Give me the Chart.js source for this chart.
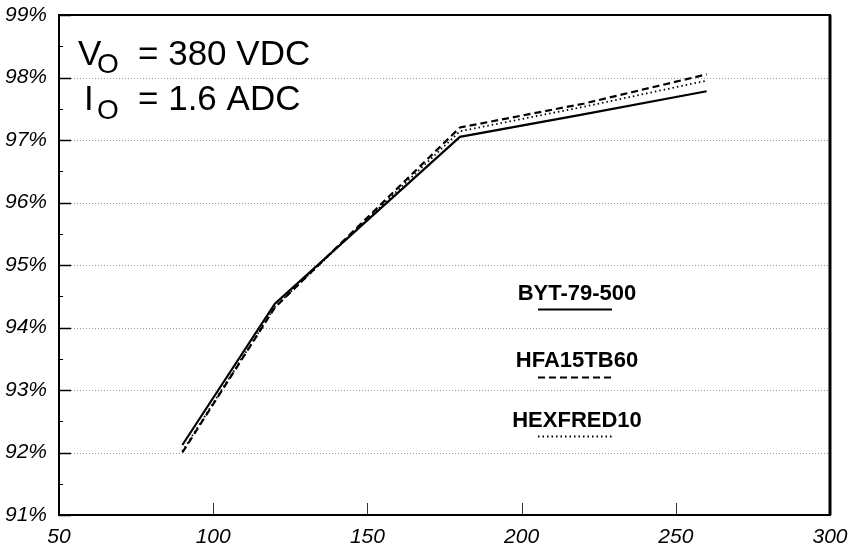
<!DOCTYPE html>
<html><head><meta charset="utf-8">
<style>html,body{margin:0;padding:0;background:#fff}#wrap{width:861px;height:550px}</style>
<script src="https://cdn.jsdelivr.net/npm/chart.js@4"></script>
</head><body><div id="wrap"><canvas id="c" width="861" height="550"></canvas></div>
<script>
// ---- data ----
const outputPower = [90, 120, 180, 220, 260];
const bytEff   = [92.12, 94.38, 97.05, 97.41, 97.78];
const hfaEff   = [92.00, 94.32, 97.20, 97.58, 98.05];
const hexEff   = [92.02, 94.33, 97.14, 97.53, 97.95];
const seriesNames = ['BYT-79-500', 'HFA15TB60', 'HEXFRED10'];
const xTickValues = [50, 100, 150, 200, 250, 300];
const yTickValues = [91, 92, 93, 94, 95, 96, 97, 98, 99];
const yMinorValues = [91.5, 92.5, 93.5, 94.5, 95.5, 96.5, 97.5, 98.5];

const FONT = '"Liberation Sans", Arial, Helvetica, sans-serif';
const toPts = ys => outputPower.map((x, i) => ({x, y: ys[i]}));

const styles = [
  {dash: [], width: 2.2},
  {dash: [7, 4], width: 2.2},
  {dash: [1.5, 3], width: 1.8}
];

const decor = {
  id: 'decor',
  beforeDatasetsDraw(chart) {
    const {ctx, chartArea: a, scales: {x, y}} = chart;
    ctx.save();
    ctx.strokeStyle = '#9a9a9a';
    ctx.lineWidth = 1;
    ctx.setLineDash([1, 2]);
    yTickValues.forEach(v => {
      const py = Math.round(y.getPixelForValue(v)) + 0.5;
      ctx.beginPath(); ctx.moveTo(a.left, py); ctx.lineTo(a.right, py); ctx.stroke();
    });
    ctx.setLineDash([]);
    ctx.strokeStyle = '#000';
    ctx.lineWidth = 1.5;
    yTickValues.forEach(v => {
      const py = Math.round(y.getPixelForValue(v)) + 0.5;
      ctx.beginPath(); ctx.moveTo(a.left, py); ctx.lineTo(a.left + 12, py); ctx.stroke();
    });
    ctx.lineWidth = 1;
    yMinorValues.forEach(v => {
      const py = Math.round(y.getPixelForValue(v)) + 0.5;
      ctx.beginPath(); ctx.moveTo(a.left, py); ctx.lineTo(a.left + 4, py); ctx.stroke();
    });
    ctx.strokeStyle = '#333';
    xTickValues.forEach(v => {
      const px = Math.round(x.getPixelForValue(v)) + 0.5;
      ctx.beginPath(); ctx.moveTo(px, a.bottom); ctx.lineTo(px, a.bottom - 12); ctx.stroke();
    });
    ctx.restore();
  },
  afterDatasetsDraw(chart) {
    const {ctx, chartArea: a} = chart;
    ctx.save();
    ctx.strokeStyle = '#000';
    ctx.lineWidth = 2;
    ctx.strokeRect(a.left, a.top, a.right - a.left, a.bottom - a.top);
    ctx.lineWidth = 3;
    ctx.beginPath(); ctx.moveTo(a.right, a.top); ctx.lineTo(a.right, a.bottom); ctx.stroke();

    ctx.fillStyle = '#000';
    ctx.textBaseline = 'alphabetic';
    ctx.textAlign = 'left';
    ctx.font = '35px ' + FONT;
    ctx.fillText('V', 78, 65);
    ctx.fillText('= 380 VDC', 138, 65);
    ctx.fillText('I', 84, 110);
    ctx.fillText('= 1.6 ADC', 138, 110);
    ctx.font = '28px ' + FONT;
    ctx.fillText('O', 97, 73);
    ctx.fillText('O', 97, 119);

    ctx.font = 'bold 22px ' + FONT;
    ctx.textAlign = 'center';
    const legendRows = [{ty: 300, ly: 309}, {ty: 367, ly: 377}, {ty: 427, ly: 436}];
    seriesNames.forEach((name, i) => {
      ctx.fillText(name, 577, legendRows[i].ty);
      ctx.setLineDash(styles[i].dash);
      ctx.lineWidth = styles[i].width;
      ctx.beginPath(); ctx.moveTo(538, legendRows[i].ly + 0.5); ctx.lineTo(612, legendRows[i].ly + 0.5); ctx.stroke();
    });
    ctx.restore();
  }
};

const datasets = [bytEff, hfaEff, hexEff].map((ys, i) => ({
  label: seriesNames[i],
  data: toPts(ys),
  borderColor: '#000',
  borderWidth: styles[i].width,
  borderDash: styles[i].dash,
  pointRadius: 0,
  tension: 0,
  fill: false
}));

new Chart(document.getElementById('c'), {
  type: 'line',
  data: {datasets},
  options: {
    responsive: false,
    animation: false,
    devicePixelRatio: 1,
    layout: {padding: {top: 15, right: 31, left: 0, bottom: 0}},
    plugins: {legend: {display: false}, tooltip: {enabled: false}},
    scales: {
      x: {
        type: 'linear', min: 50, max: 300,
        afterBuildTicks: s => { s.ticks = xTickValues.map(v => ({value: v})); },
        afterFit: s => { s.height = 35; s.paddingLeft = 0; s.paddingRight = 0; },
        grid: {display: false, drawTicks: false},
        border: {display: false},
        ticks: {color: '#000', padding: 10, maxRotation: 0, font: {family: FONT, size: 21, style: 'italic'}}
      },
      y: {
        type: 'linear', min: 91, max: 99,
        afterBuildTicks: s => { s.ticks = yTickValues.map(v => ({value: v})); },
        afterFit: s => { s.width = 59; s.paddingTop = 0; s.paddingBottom = 0; },
        grid: {display: false, drawTicks: false},
        border: {display: false},
        ticks: {color: '#000', padding: 12, callback: v => v + '%', font: {family: FONT, size: 21, style: 'italic'}}
      }
    }
  },
  plugins: [decor]
});
</script>
</body></html>
